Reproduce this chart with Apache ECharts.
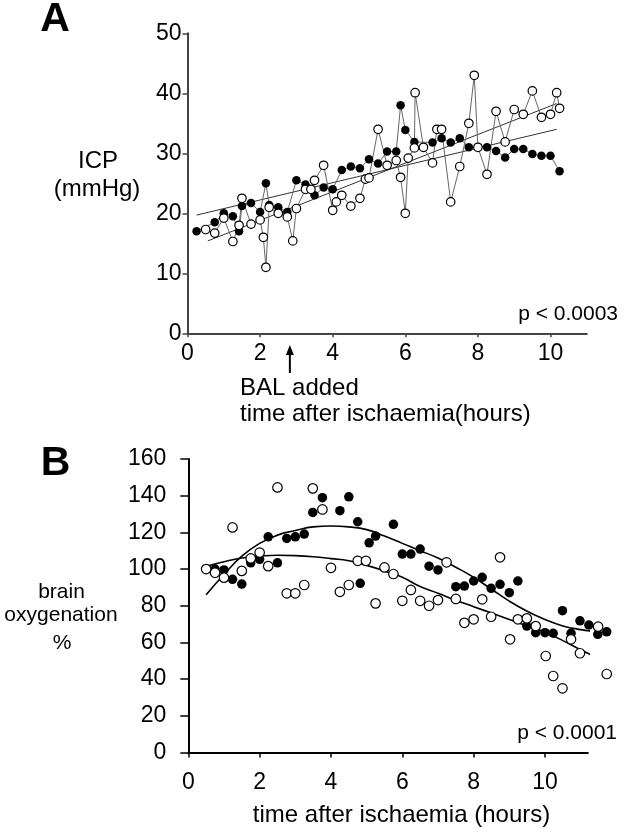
<!DOCTYPE html>
<html>
<head>
<meta charset="utf-8">
<script src="https://cdn.jsdelivr.net/npm/echarts@6/dist/echarts.min.js"></script>
<style>
  html, body { margin: 0; padding: 0; background: #fff; }
  #chart { width: 624px; height: 834px; }
</style>
</head>
<body>
<div id="chart"></div>
<script>
// panel A - ICP (mmHg), hours after ischaemia
const icpFilledT = [0.25, 0.75, 1.0, 1.25, 1.42, 1.5, 1.75, 2.0, 2.16, 2.25, 2.5, 2.75, 3.0, 3.25, 3.5, 3.75, 4.0, 4.25, 4.5, 4.75, 5.0, 5.25, 5.5, 5.75, 5.87, 6.0, 6.25, 6.75, 7.0, 7.25, 7.5, 7.75, 8.25, 8.5, 8.75, 9.0, 9.25, 9.5, 9.75, 10.0, 10.25]
const icpFilledV = [17.0, 18.5, 20.0, 19.5, 17.0, 21.2, 21.7, 20.2, 25.0, 21.4, 21.0, 20.2, 25.5, 24.8, 23.0, 24.3, 24.0, 27.2, 27.8, 27.5, 29.0, 28.3, 30.3, 30.3, 38.0, 33.9, 31.9, 31.8, 32.5, 31.8, 32.5, 31.0, 31.0, 30.4, 29.3, 30.7, 30.7, 29.9, 29.6, 29.6, 27.0]
const icpOpenT = [0.5, 0.75, 1.0, 1.25, 1.42, 1.5, 1.75, 2.0, 2.09, 2.16, 2.25, 2.5, 2.75, 2.9, 3.0, 3.25, 3.4, 3.5, 3.75, 4.0, 4.1, 4.25, 4.5, 4.75, 4.9, 5.0, 5.25, 5.5, 5.75, 5.87, 6.0, 6.08, 6.25, 6.27, 6.5, 6.75, 6.87, 7.0, 7.25, 7.5, 7.75, 7.9, 8.0, 8.25, 8.5, 8.75, 9.0, 9.25, 9.5, 9.75, 10.0, 10.17, 10.25]
const icpOpenV = [17.3, 16.7, 19.2, 15.3, 18.0, 22.5, 18.2, 18.9, 16.0, 11.0, 21.0, 20.0, 19.4, 15.4, 20.8, 24.0, 24.0, 25.5, 28.0, 20.5, 21.9, 23.0, 21.2, 22.5, 25.7, 25.9, 34.0, 28.0, 28.8, 26.0, 20.0, 29.2, 30.9, 40.1, 31.0, 28.4, 34.0, 34.0, 21.9, 27.8, 35.0, 43.0, 31.0, 26.5, 37.0, 31.9, 37.3, 36.5, 40.4, 36.0, 36.5, 40.1, 37.5]
// regression lines, end points
const icpFitFilledT = [0.25, 10.17]
const icpFitFilledV = [19.7, 34.0]
const icpFitOpenT = [0.56, 10.17]
const icpFitOpenV = [15.4, 38.3]
const icpTicksX = [0, 2, 4, 6, 8, 10]
const balHour = 2.82

// panel B - brain oxygenation %
const oxyFilledT = [0.75, 1.0, 1.24, 1.5, 1.75, 2.0, 2.24, 2.5, 2.76, 3.0, 3.25, 3.49, 3.76, 4.25, 4.5, 4.75, 4.82, 5.07, 5.25, 5.75, 6.0, 6.24, 6.5, 6.75, 7.0, 7.5, 7.74, 8.0, 8.24, 8.49, 8.74, 9.0, 9.24, 9.49, 9.74, 10.0, 10.23, 10.49, 10.73, 10.98, 11.23, 11.48, 11.73]
const oxyFilledV = [100, 99.5, 94.4, 91.8, 103.4, 105.3, 117.6, 103.4, 116.7, 117.6, 119.1, 130.9, 138.9, 131.8, 139.4, 125.8, 92.2, 114.3, 118, 124.4, 108.2, 108.2, 110.9, 101.6, 99.5, 90.4, 90.7, 93.5, 95.5, 89.5, 91.7, 87.1, 93.5, 68.9, 65.3, 65.3, 65, 77.3, 65, 71.8, 69.5, 64.4, 65.8]
const oxyOpenT = [0.5, 0.75, 1.0, 1.24, 1.5, 1.75, 2.0, 2.24, 2.5, 2.76, 3.0, 3.25, 3.49, 3.76, 4.0, 4.25, 4.5, 4.75, 4.98, 5.25, 5.5, 5.75, 6.0, 6.24, 6.5, 6.75, 7.0, 7.24, 7.5, 7.74, 8.0, 8.24, 8.49, 8.74, 9.02, 9.24, 9.49, 9.74, 10.02, 10.23, 10.49, 10.73, 10.98, 11.49, 11.73]
const oxyOpenV = [100, 98, 95.3, 122.7, 99, 105.8, 109, 101.6, 144.5, 86.8, 86.8, 91.3, 144, 132.5, 100.7, 87.6, 91.3, 104.5, 104.5, 81.3, 100.9, 97.3, 82.7, 88.6, 82.7, 80, 83.1, 103.7, 83.7, 70.7, 72.6, 83.5, 74, 106.4, 61.7, 72.6, 73.1, 68.9, 52.6, 41.7, 35, 61.7, 54.1, 68.6, 42.8]
// fitted curves, points
const oxyFitFilledT = [0.5, 1, 1.5, 2, 2.5, 3, 3.5, 4, 4.5, 5, 5.5, 6, 6.5, 7, 7.5, 8, 8.5, 9, 9.5, 10, 10.5, 11, 11.45]
const oxyFitFilledV = [86, 97, 107, 114, 118.5, 121, 123, 123.5, 123, 121.5, 118, 114, 110, 106, 101, 95.5, 89, 82.5, 77, 72.5, 69, 67, 66]
const oxyFitOpenT = [0.5, 1, 1.5, 2, 2.5, 3, 3.5, 4, 4.5, 5, 5.5, 6, 6.5, 7, 7.5, 8, 8.5, 9, 9.5, 10, 10.5, 11, 11.73]
const oxyFitOpenV = [101.5, 104, 106, 107, 107.5, 107.3, 106.7, 105.7, 104.5, 102, 99, 95.5, 90.5, 86.8, 83, 79.5, 76, 72.5, 69, 65.5, 61, 56, 49]
const oxyTicksX = [0, 2, 4, 6, 8, 10]

const FONT = '"Liberation Sans", Arial, sans-serif'
const zip = (xs, ys) => xs.map((x, i) => [x, ys[i]])

const chart = echarts.init(document.getElementById('chart'), null, { renderer: 'canvas' })

// thin joining / fit line under the markers
const joinLine = (xs, ys, idx, color, width, smooth) => ({
  type: 'line',
  xAxisIndex: idx,
  yAxisIndex: idx,
  data: zip(xs, ys),
  showSymbol: false,
  smooth: smooth || false,
  clip: false,
  silent: true,
  z: 2,
  lineStyle: { color: color, width: width }
})

const dots = (xs, ys, idx, filled, size) => ({
  type: 'scatter',
  xAxisIndex: idx,
  yAxisIndex: idx,
  data: zip(xs, ys),
  symbol: 'circle',
  symbolSize: size,
  clip: false,
  silent: true,
  z: 3,
  itemStyle: {
    color: filled ? '#000' : '#fff',
    borderColor: '#000',
    borderWidth: filled ? 0 : 1.2,
    opacity: 1
  }
})

const option = {
  animation: false,
  backgroundColor: '#fff',
  textStyle: { fontFamily: FONT },
  grid: [
    { left: 187.5, top: 33.3, width: 399.3, height: 300 },
    { left: 188.3, top: 459, width: 399.5, height: 293.5 }
  ],
  xAxis: [
    {
      gridIndex: 0, type: 'value', min: 0, max: 11,
      splitLine: { show: false },
      axisLine: { onZero: false, lineStyle: { color: '#444', width: 2 } },
      axisTick: { customValues: icpTicksX, length: 4, lineStyle: { color: '#444', width: 1.5 } },
      axisLabel: { customValues: icpTicksX, margin: 9, color: '#000', fontSize: 23, fontFamily: FONT }
    },
    {
      gridIndex: 1, type: 'value', min: 0, max: 11.2,
      splitLine: { show: false },
      axisLine: { onZero: false, lineStyle: { color: '#000', width: 2 } },
      axisTick: { customValues: oxyTicksX, length: 5, lineStyle: { color: '#000', width: 1.5 } },
      axisLabel: { customValues: oxyTicksX, margin: 19, color: '#000', fontSize: 23, fontFamily: FONT }
    }
  ],
  yAxis: [
    {
      gridIndex: 0, type: 'value', min: 0, max: 50, interval: 10,
      splitLine: { show: false },
      axisLine: { show: true, onZero: false, lineStyle: { color: '#444', width: 2 } },
      axisTick: { show: true, length: 5, lineStyle: { color: '#444', width: 1.5 } },
      axisLabel: { margin: 6, color: '#000', fontSize: 23, fontFamily: FONT }
    },
    {
      gridIndex: 1, type: 'value', min: 0, max: 160, interval: 20,
      splitLine: { show: false },
      axisLine: { show: true, onZero: false, lineStyle: { color: '#000', width: 2 } },
      axisTick: { show: true, length: 8, lineStyle: { color: '#000', width: 1.5 } },
      axisLabel: { margin: 22, color: '#000', fontSize: 23, fontFamily: FONT }
    }
  ],
  series: [
    joinLine(icpFitFilledT, icpFitFilledV, 0, '#333', 1),
    joinLine(icpFitOpenT, icpFitOpenV, 0, '#333', 1),
    joinLine(icpFilledT, icpFilledV, 0, '#666', 1),
    joinLine(icpOpenT, icpOpenV, 0, '#666', 1),
    dots(icpFilledT, icpFilledV, 0, true, 8.5),
    dots(icpOpenT, icpOpenV, 0, false, 8.5),

    joinLine(oxyFitFilledT, oxyFitFilledV, 1, '#000', 1.6, true),
    joinLine(oxyFitOpenT, oxyFitOpenV, 1, '#000', 1.6, true),
    dots(oxyFilledT, oxyFilledV, 1, true, 9.5),
    dots(oxyOpenT, oxyOpenV, 1, false, 9.5)
  ]
}

chart.setOption(option)

// annotations, placed after the axes exist
const balX = chart.convertToPixel({ xAxisIndex: 0 }, balHour)
const txt = (text, x, y, align, size, bold) => ({
  type: 'text',
  x: x,
  y: y,
  silent: true,
  style: {
    text: text,
    fill: '#000',
    font: (bold ? 'bold ' : '') + size + 'px ' + FONT,
    textAlign: align,
    textVerticalAlign: 'middle'
  }
})

chart.setOption({
  graphic: [
    txt('A', 55, 20, 'center', 41, true),
    txt('B', 55.5, 464, 'center', 41, true),
    txt('ICP', 98, 161, 'center', 24),
    txt('(mmHg)', 97, 189, 'center', 24),
    txt('BAL added', 240, 388.5, 'left', 24),
    txt('time after ischaemia(hours)', 240, 414, 'left', 24),
    txt('p < 0.0003', 618, 314, 'right', 21),
    txt('brain', 61.5, 592, 'center', 21),
    txt('oxygenation', 61, 615, 'center', 21),
    txt('%', 62, 643, 'center', 21),
    txt('time after ischaemia (hours)', 401.5, 815, 'center', 24),
    txt('p < 0.0001', 617, 733, 'right', 21),
    {
      type: 'line',
      silent: true,
      shape: { x1: balX, y1: 352, x2: balX, y2: 373 },
      style: { stroke: '#000', lineWidth: 2 }
    },
    {
      type: 'polygon',
      silent: true,
      shape: { points: [[balX, 345], [balX - 4, 355], [balX + 4, 355]] },
      style: { fill: '#000' }
    }
  ]
})

window.addEventListener('resize', () => {
  chart.resize()
})
</script>
</body>
</html>
